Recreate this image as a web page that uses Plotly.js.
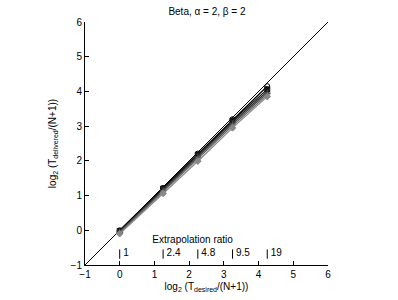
<!DOCTYPE html>
<html>
<head>
<meta charset="utf-8">
<script src="https://cdn.plot.ly/plotly-3.0.1.min.js"></script>
<style>html,body{margin:0;padding:0;background:#fff;}#plot{width:398px;height:300px;}</style>
</head>
<body>
<div id="plot"></div>
<script>
// x positions (log2 of desired / (N+1))
const xDesired = [0, 1.25, 2.25, 3.25, 4.25];
// delivered values per series
const series1 = [0.00, 1.22, 2.21, 3.20, 4.15];
const series2 = [-0.02, 1.20, 2.18, 3.16, 4.06];
const series3 = [-0.03, 1.18, 2.15, 3.12, 4.00];
const series4 = [-0.05, 1.15, 2.11, 3.07, 3.95];
const series5 = [-0.07, 1.11, 2.06, 3.01, 3.90];
const series6 = [-0.10, 1.06, 1.99, 2.95, 3.85];
const seriesColors = ['#000000', '#111111', '#2a2a2a', '#444444', '#666666', '#888888'];
const seriesSymbols = ['circle-open', 'square', 'x-thin-open', 'cross-thin-open', 'asterisk-open', 'diamond'];
// extrapolation ratio secondary scale
const extrapPos = [0, 1.25, 2.25, 3.25, 4.25];
const extrapLabels = ['1', '2.4', '4.8', '9.5', '19'];
const diagRange = [-1, 6];

const FONT = 'Liberation Sans, Arial, sans-serif';
const allSeries = [series1, series2, series3, series4, series5, series6];
const traces = [];
traces.push({x: diagRange, y: diagRange, mode: 'lines', line: {color: '#000', width: 1}, hoverinfo: 'skip'});
allSeries.forEach((s, i) => {
  traces.push({
    x: xDesired, y: s, mode: 'lines+markers',
    line: {color: seriesColors[i], width: 1.2},
    marker: {symbol: seriesSymbols[i], size: 5, color: seriesColors[i], line: {color: seriesColors[i], width: 1}}
  });
});
// extrapolation ticks
const tx = [], ty = [];
extrapPos.forEach(p => { tx.push(p, p, null); ty.push(-0.82, -0.55, null); });
traces.push({x: tx, y: ty, mode: 'lines', line: {color: '#000', width: 1}, hoverinfo: 'skip'});
traces.push({x: extrapPos, y: extrapPos.map(() => -0.66), mode: 'markers+text', text: extrapLabels,
  marker: {size: 4, opacity: 0},
  textposition: 'middle right', textfont: {family: FONT, size: 10, color: '#000'}});
traces.push({x: [2.1], y: [-0.29], mode: 'text', text: ['Extrapolation ratio'],
  textposition: 'middle center', textfont: {family: FONT, size: 10, color: '#000'}});

const axisCommon = {
  range: [-1, 6], dtick: 1, tick0: 0, ticks: 'inside', ticklen: 4, tickcolor: '#000',
  showline: true, linecolor: '#000', linewidth: 1, showgrid: false, zeroline: false, mirror: false,
  tickfont: {family: FONT, size: 10, color: '#000'}
};
const layout = {
  width: 398, height: 300,
  margin: {l: 85, r: 70, t: 22, b: 35},
  paper_bgcolor: '#fff', plot_bgcolor: '#fff',
  showlegend: false,
  font: {family: FONT, size: 10, color: '#000'},
  title: {text: 'Beta, α = 2, β = 2', x: 0.52, xanchor: 'center', y: 0.962, yanchor: 'middle',
    font: {family: FONT, size: 10, color: '#000'}},
  xaxis: Object.assign({}, axisCommon, {
    title: {text: 'log<sub>2</sub> (T<sub>desired</sub>/(N+1))', standoff: 3,
      font: {family: FONT, size: 10, color: '#000'}}
  }),
  yaxis: Object.assign({}, axisCommon, {
    title: {text: 'log<sub>2</sub> (T<sub>delivered</sub>/(N+1))', standoff: 12,
      font: {family: FONT, size: 10, color: '#000'}}
  })
};
Plotly.newPlot('plot', traces, layout, {displayModeBar: false, staticPlot: true});
</script>
</body>
</html>
